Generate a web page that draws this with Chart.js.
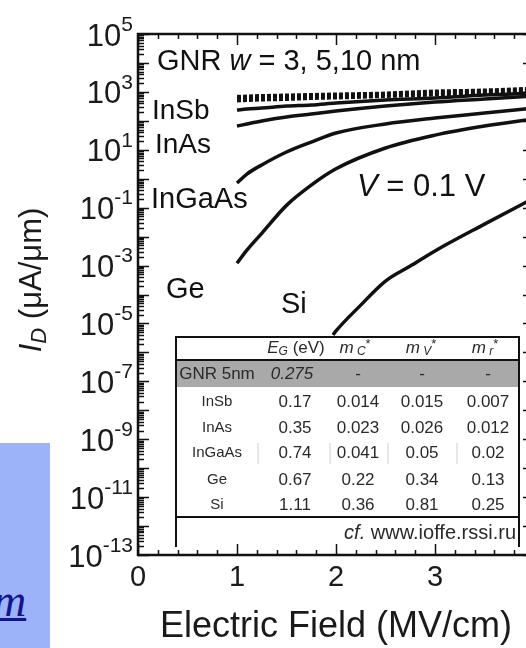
<!DOCTYPE html>
<html>
<head>
<meta charset="utf-8">
<script src="https://cdn.jsdelivr.net/npm/chart.js@4.4.0/dist/chart.umd.min.js"></script>
<style>
  html, body { margin: 0; padding: 0; background: #fff; overflow: hidden; }
  #wrap { position: relative; width: 526px; height: 648px; overflow: hidden; }
  #ivChart { position: absolute; left: 0; top: 0; }
  #note { position: absolute; left: 0; top: 443px; width: 50px; height: 205px; background: #9cb3f9; overflow: hidden; }
  #note span { position: absolute; left: -7px; top: 135px; font: italic 46px "Liberation Serif", serif; line-height: 46px; color: #14148a; text-decoration: underline; text-decoration-thickness: 3px; }
</style>
</head>
<body>
<div id="wrap">
  <canvas id="ivChart" width="545" height="648"></canvas>
  <div id="note"><span>m</span></div>
</div>
<script>
// electric field (MV/cm) sample points
const field = [1, 1.1, 1.25, 1.5, 1.75, 2, 2.5, 3, 3.5, 4];
const fieldSi = [1.97, 2, 2.25, 2.5, 2.75, 3, 3.5, 4];

// drain current (uA/um)
const gnr10 = [700, 721, 750, 780, 812, 845, 914, 1072, 1161, 1361];
const gnr5 = [590, 615, 640, 666, 692, 721, 812, 914, 1030, 1161];
const gnr3 = [484, 505, 525, 546, 590, 615, 692, 780, 879, 991];
const inSb = [237, 256, 277, 325, 352, 413, 524, 615, 780, 914];
const inAs = [66, 78, 99, 136, 172, 218, 325, 447, 568, 721];
const inGaAs = [0.71, 1.45, 3.0, 8.4, 18.5, 38, 78, 125, 186, 277];
const ge = [1.2e-3, 3.4e-3, 0.013, 0.12, 0.6, 2.2, 11.5, 32, 66, 116];
const si = [4e-6, 5.5e-6, 4.3e-5, 2.9e-4, 9.6e-4, 3.2e-3, 0.027, 0.215];

const xTickLabels = ["0", "1", "2", "3", "4"];
const yTickExps = [5, 3, 1, -1, -3, -5, -7, -9, -11, -13];

// material table
const tableNames = ["InSb", "InAs", "InGaAs", "Ge", "Si"];
const tableEg = ["0.17", "0.35", "0.74", "0.67", "1.11"];
const tableMc = ["0.014", "0.023", "0.041", "0.22", "0.36"];
const tableMv = ["0.015", "0.026", "0.05", "0.34", "0.81"];
const tableMr = ["0.007", "0.012", "0.02", "0.13", "0.25"];

const SANS = '"Liberation Sans", Arial, sans-serif';

function pts(xs, ys) {
  return xs.map((x, i) => ({ x: x, y: ys[i] }));
}

function solid(label, xs, ys) {
  return { label, data: pts(xs, ys), borderColor: "#111", borderWidth: 3.5 };
}

function dashed(label, xs, ys) {
  return { label, data: pts(xs, ys), borderColor: "#111", borderWidth: 3, borderDash: [4, 2] };
}

// draws text made of pieces: [text, size, italic, dy]
function richText(ctx, parts, x, y, align) {
  let total = 0;
  parts.forEach((p) => {
    ctx.font = (p[2] ? "italic " : "") + p[1] + "px " + SANS;
    total += ctx.measureText(p[0]).width;
  });
  let cx = align === "right" ? x - total : align === "center" ? x - total / 2 : x;
  ctx.textAlign = "left";
  parts.forEach((p) => {
    ctx.font = (p[2] ? "italic " : "") + p[1] + "px " + SANS;
    ctx.fillText(p[0], cx, y + (p[3] || 0));
    cx += ctx.measureText(p[0]).width;
  });
}

const decorPlugin = {
  id: "decor",
  afterDatasetsDraw(chart) {
    const ctx = chart.ctx;
    const a = chart.chartArea;
    const xs = chart.scales.x;
    const ys = chart.scales.y;
    ctx.save();

    // in-plot labels
    ctx.fillStyle = "#111";
    ctx.textBaseline = "middle";
    richText(ctx, [["GNR ", 29], ["w", 29, true], [" = 3, 5,10 nm", 29]], 157, 62, "left");
    richText(ctx, [["InSb", 28]], 152, 111, "left");
    richText(ctx, [["InAs", 28]], 155, 145, "left");
    richText(ctx, [["InGaAs", 29]], 151, 200, "left");
    richText(ctx, [["V", 31, true], [" = 0.1 V", 31]], 357, 187, "left");
    richText(ctx, [["Ge", 29]], 166, 290, "left");
    richText(ctx, [["Si", 29]], 281, 305, "left");

    // table
    const tL = 176, tR = 519, tT = 337, tB = 547;
    ctx.fillStyle = "#fff";
    ctx.fillRect(tL, tT, tR - tL, tB - tT);
    ctx.fillStyle = "#a9a9a9";
    ctx.fillRect(tL, 360, tR - tL, 27);
    ctx.strokeStyle = "#111";
    ctx.lineWidth = 2;
    ctx.beginPath();
    ctx.moveTo(tL, tB); ctx.lineTo(tL, tT); ctx.lineTo(tR, tT); ctx.lineTo(tR, tB);
    ctx.moveTo(tL, 360); ctx.lineTo(tR, 360);
    ctx.moveTo(tL, 517); ctx.lineTo(tR, 517);
    ctx.stroke();
    ctx.strokeStyle = "#cfcfcf";
    ctx.lineWidth = 1;
    ctx.beginPath();
    [258, 330, 388, 457].forEach((x) => { ctx.moveTo(x, 443); ctx.lineTo(x, 464); });
    ctx.stroke();

    const cols = [217, 295, 358, 422, 488];
    ctx.fillStyle = "#2a2a2a";
    richText(ctx, [["E", 17, true], ["G", 12, true, 4], [" (eV)", 17]], 296, 348, "center");
    richText(ctx, [["m", 17, true], [" C", 12, true, 4], ["*", 13, false, -4]], 355, 348, "center");
    richText(ctx, [["m", 17, true], [" V", 12, true, 4], ["*", 13, false, -4]], 421, 348, "center");
    richText(ctx, [["m", 17, true], [" r", 12, true, 4], ["*", 13, false, -4]], 485, 348, "center");
    richText(ctx, [["GNR 5nm", 17]], 217, 374, "center");
    richText(ctx, [["0.275", 17, true]], 292, 374, "center");
    [cols[2], cols[3], cols[4]].forEach((c) => richText(ctx, [["-", 17]], c, 374, "center"));
    const rowY = [402, 428, 453, 480, 505];
    tableNames.forEach((n, i) => {
      richText(ctx, [[n, 15]], cols[0], rowY[i], "center");
      richText(ctx, [[tableEg[i], 17]], cols[1], rowY[i], "center");
      richText(ctx, [[tableMc[i], 17]], cols[2], rowY[i], "center");
      richText(ctx, [[tableMv[i], 17]], cols[3], rowY[i], "center");
      richText(ctx, [[tableMr[i], 17]], cols[4], rowY[i], "center");
    });
    richText(ctx, [["cf.", 20, true], [" www.ioffe.rssi.ru", 20]], 516, 533, "right");

    // frame and inward ticks
    ctx.strokeStyle = "#111";
    ctx.lineWidth = 2.5;
    ctx.strokeRect(a.left, a.top, a.right - a.left, a.bottom - a.top);
    ctx.lineWidth = 1.5;
    ctx.beginPath();
    for (let i = 0; i <= 20; i++) {
      const px = Math.round(xs.getPixelForValue(i * 0.2)) + 0.5;
      const len = i % 5 === 0 ? 11 : 5;
      ctx.moveTo(px, a.bottom); ctx.lineTo(px, a.bottom - len);
      ctx.moveTo(px, a.top); ctx.lineTo(px, a.top + len);
    }
    for (let e = -13; e <= 5; e++) {
      for (let k = 1; k < 10; k++) {
        if (e === 5 && k > 1) break;
        const py = Math.round(ys.getPixelForValue(k * Math.pow(10, e))) + 0.5;
        const len = k === 1 ? 11 : 6;
        ctx.moveTo(a.left, py); ctx.lineTo(a.left + len, py);
        if (k === 1) { ctx.moveTo(a.right, py); ctx.lineTo(a.right - len, py); }
      }
    }
    ctx.stroke();

    // tick labels
    ctx.fillStyle = "#1a1a1a";
    ctx.textBaseline = "middle";
    xTickLabels.forEach((t) => {
      richText(ctx, [[t, 29]], xs.getPixelForValue(Number(t)), 578, "center");
    });
    yTickExps.forEach((e) => {
      const py = ys.getPixelForValue(Math.pow(10, e));
      richText(ctx, [["10", 31], [String(e), 21, false, -12]], 133, py + 3, "right");
    });

    // axis titles
    richText(ctx, [["Electric Field (MV/cm)", 36]], 336, 627, "center");
    ctx.translate(32, 280);
    ctx.rotate(-Math.PI / 2);
    richText(ctx, [["I", 31, true], ["D", 22, true, 8], [" (\u03bcA/\u03bcm)", 31]], 0, 0, "center");

    ctx.restore();
  },
};

new Chart(document.getElementById("ivChart").getContext("2d"), {
  type: "line",
  data: {
    datasets: [
      dashed("GNR w=10 nm", field, gnr10),
      dashed("GNR w=5 nm", field, gnr5),
      dashed("GNR w=3 nm", field, gnr3),
      solid("InSb", field, inSb),
      solid("InAs", field, inAs),
      solid("InGaAs", field, inGaAs),
      solid("Ge", field, ge),
      solid("Si", fieldSi, si),
    ],
  },
  options: {
    responsive: false,
    animation: false,
    layout: { padding: { left: 138, right: 11, top: 34, bottom: 93 } },
    elements: {
      point: { radius: 0 },
      line: { cubicInterpolationMode: "monotone", fill: false },
    },
    plugins: { legend: { display: false }, tooltip: { enabled: false } },
    scales: {
      x: { type: "linear", min: 0, max: 4, display: false },
      y: { type: "logarithmic", min: 1e-13, max: 1e5, display: false },
    },
  },
  plugins: [decorPlugin],
});
</script>
</body>
</html>
